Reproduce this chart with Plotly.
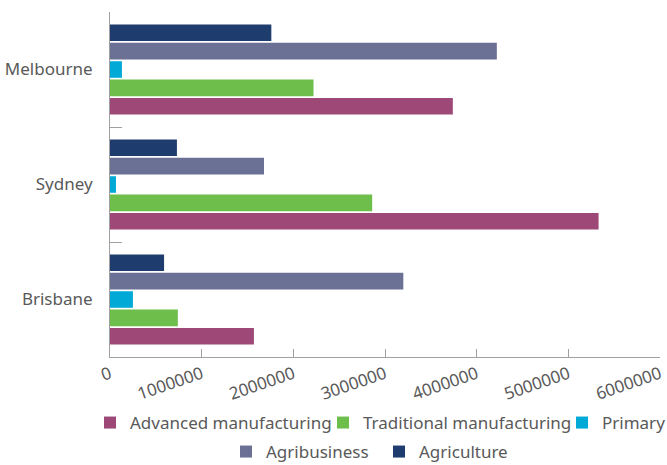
import plotly.graph_objects as go

# Cities (bottom to top on the category axis)
cities = ["Brisbane", "Sydney", "Melbourne"]

# Sector values per city, ordered as in `cities`
advanced_manufacturing = [1570000, 5330000, 3740000]
traditional_manufacturing = [740000, 2860000, 2220000]
primary = [250000, 65000, 130000]
agribusiness = [3200000, 1680000, 4220000]
agriculture = [590000, 730000, 1760000]

x_tick_values = [0, 1000000, 2000000, 3000000, 4000000, 5000000, 6000000]
x_tick_labels = ["0", "1000000", "2000000", "3000000", "4000000", "5000000", "6000000"]

# name, values, colour, legend id, legend anchor (container x, container y)
series = [
    ("Advanced manufacturing", advanced_manufacturing, "#9d4877", "legend", 90, 423),
    ("Traditional manufacturing", traditional_manufacturing, "#6dbe4b", "legend2", 323, 423),
    ("Primary", primary, "#00a9d6", "legend3", 562, 423),
    ("Agribusiness", agribusiness, "#6b7195", "legend4", 226, 452),
    ("Agriculture", agriculture, "#1e3c6d", "legend5", 379, 452),
]

W, H = 667, 465
FONT = "Noto Sans"
TEXT = "#595959"
AXIS = "#a0a0a0"

fig = go.Figure()
legends = {}
for name, values, color, leg, lx, ly in series:
    fig.add_trace(go.Bar(
        name=name, y=cities, x=values, orientation="h",
        marker=dict(color=color, line=dict(width=0)),
        legend=leg, showlegend=True,
    ))
    legends[leg] = dict(
        visible=True,
        orientation="h", xanchor="left", yanchor="middle",
        xref="container", yref="container",
        x=lx / W, y=1 - ly / H,
        font=dict(family=FONT, size=17, color=TEXT),
        bgcolor="rgba(0,0,0,0)", itemwidth=30,
        itemclick=False, itemdoubleclick=False,
    )

fig.update_layout(
    width=W, height=H,
    showlegend=True,
    margin=dict(l=110, r=7, t=12, b=108, autoexpand=False),
    paper_bgcolor="white", plot_bgcolor="white",
    barmode="group", bargap=0.2, bargroupgap=0.1,
    font=dict(family=FONT, size=17, color=TEXT),
    xaxis=dict(
        range=[0, 6000000], tickvals=x_tick_values, ticktext=x_tick_labels,
        tickangle=-19, ticks="inside", ticklen=8, tickcolor=AXIS,
        showline=True, linecolor=AXIS, linewidth=1,
        showgrid=False, zeroline=False,
        tickfont=dict(family=FONT, size=17, color=TEXT),
    ),
    yaxis=dict(
        categoryorder="array", categoryarray=cities,
        tickson="boundaries", ticks="inside", ticklen=12, tickcolor=AXIS,
        showline=True, linecolor=AXIS, linewidth=1,
        showgrid=False, zeroline=False, ticklabelstandoff=13,
        tickfont=dict(family=FONT, size=17, color=TEXT),
    ),
    **legends,
)

fig.write_html("out.html")
